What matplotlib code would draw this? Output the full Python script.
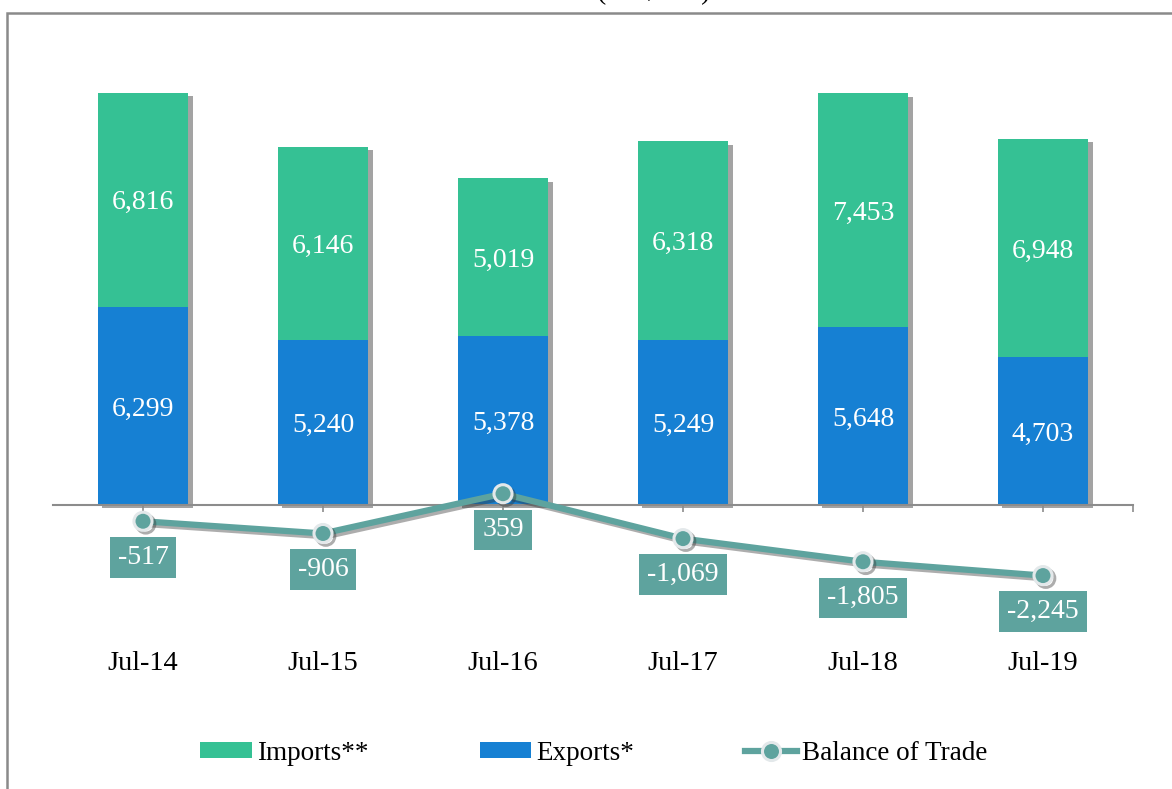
import numpy as np
import matplotlib.pyplot as plt
import matplotlib.patheffects as pe
from matplotlib.lines import Line2D
from matplotlib.patches import Patch

plt.rcParams['font.family'] = ['Liberation Serif', 'DejaVu Serif']

months = ["Jul-14", "Jul-15", "Jul-16", "Jul-17", "Jul-18", "Jul-19"]
exports = [6299, 5240, 5378, 5249, 5648, 4703]
imports = [6816, 6146, 5019, 6318, 7453, 6948]
balance = [-517, -906, 359, -1069, -1805, -2245]

imp_color = "#35C194"
exp_color = "#1680D3"
bal_color = "#5EA39E"

W, H = 1172, 789
fig = plt.figure(figsize=(W / 100, H / 100), dpi=100)

# axes placed in pixel terms
left, right, top, bottom = 53, 1133, 40, 640
ax = fig.add_axes([left / W, 1 - bottom / H, (right - left) / W, (bottom - top) / H])

x = np.arange(len(months))
totals = np.array(exports) + np.array(imports)

# drop shadow behind the whole stacked bar
ax.bar(x, totals, width=0.505, color='none', zorder=1,
       path_effects=[pe.SimplePatchShadow(offset=(3, -2.5), shadow_rgbFace='#333333', alpha=0.45)])
ax.bar(x, exports, width=0.505, color=exp_color, zorder=2)
ax.bar(x, imports, width=0.505, bottom=exports, color=imp_color, zorder=2)

for i in range(len(months)):
    ax.text(x[i], exports[i] / 2, f"{exports[i]:,}", ha='center', va='center_baseline',
            color='white', fontsize=20, zorder=5)
    ax.text(x[i], exports[i] + imports[i] / 2, f"{imports[i]:,}", ha='center', va='center_baseline',
            color='white', fontsize=20, zorder=5)

ax.plot(x, balance, color=bal_color, lw=4.5, marker='o', markersize=13,
        markerfacecolor=bal_color, markeredgecolor='#E3E8EA', markeredgewidth=2.2, zorder=4,
        path_effects=[pe.SimpleLineShadow(offset=(2, -2), shadow_color='#333333', alpha=0.4), pe.Normal()])

for i in range(len(months)):
    ax.annotate(f"{balance[i]:,}", (x[i], balance[i]), xytext=(0, -26), textcoords='offset points',
                ha='center', va='center', color='white', fontsize=20, zorder=6,
                bbox=dict(boxstyle='square,pad=0.28', fc=bal_color, ec='none'))

ax.set_xlim(-0.5, 5.5)
ax.set_ylim(-(bottom - 505) / 0.03144, (505 - top) / 0.03144)

for s in ['left', 'right', 'top']:
    ax.spines[s].set_visible(False)
ax.spines['bottom'].set_position(('data', 0))
ax.spines['bottom'].set_color('#8C8C8C')
ax.spines['bottom'].set_linewidth(1.5)
ax.set_yticks([])
ax.set_xticks(x)
ax.set_xticklabels(months, fontsize=20.5)
ax.set_xticks([5.5], minor=True)
ax.tick_params(axis='x', which='both', direction='out', length=5, color='#8C8C8C', width=1.2, pad=100)
ax.patch.set_alpha(0)

handles = [
    Patch(facecolor=imp_color, edgecolor='none'),
    Patch(facecolor=exp_color, edgecolor='none'),
    Line2D([0], [0], color=bal_color, lw=4.5, marker='o', markersize=13,
           markerfacecolor=bal_color, markeredgecolor='#E3E8EA', markeredgewidth=2.2),
]
fig.legend(handles, ["Imports**", "Exports*", "Balance of Trade"], loc='center',
           bbox_to_anchor=(594 / W, 1 - 753 / H), ncol=3, frameon=False, fontsize=19.5,
           handlelength=1.9, handleheight=0.5, handletextpad=0.2, columnspacing=4.1)

# frame around the chart (cropped at right and bottom)
fig.add_artist(plt.Rectangle((6.5 / W, -0.05), 1.1, 1 - 12.5 / H + 0.05, transform=fig.transFigure,
                             fill=False, ec='#8A8A8A', lw=1.8))

# title, mostly cut off by the top edge as in the source
fig.text(654 / W, 1 + 9 / H, "(US$ Mn)", ha='center', va='center', fontsize=20)

fig.savefig("out.png", dpi=100)
